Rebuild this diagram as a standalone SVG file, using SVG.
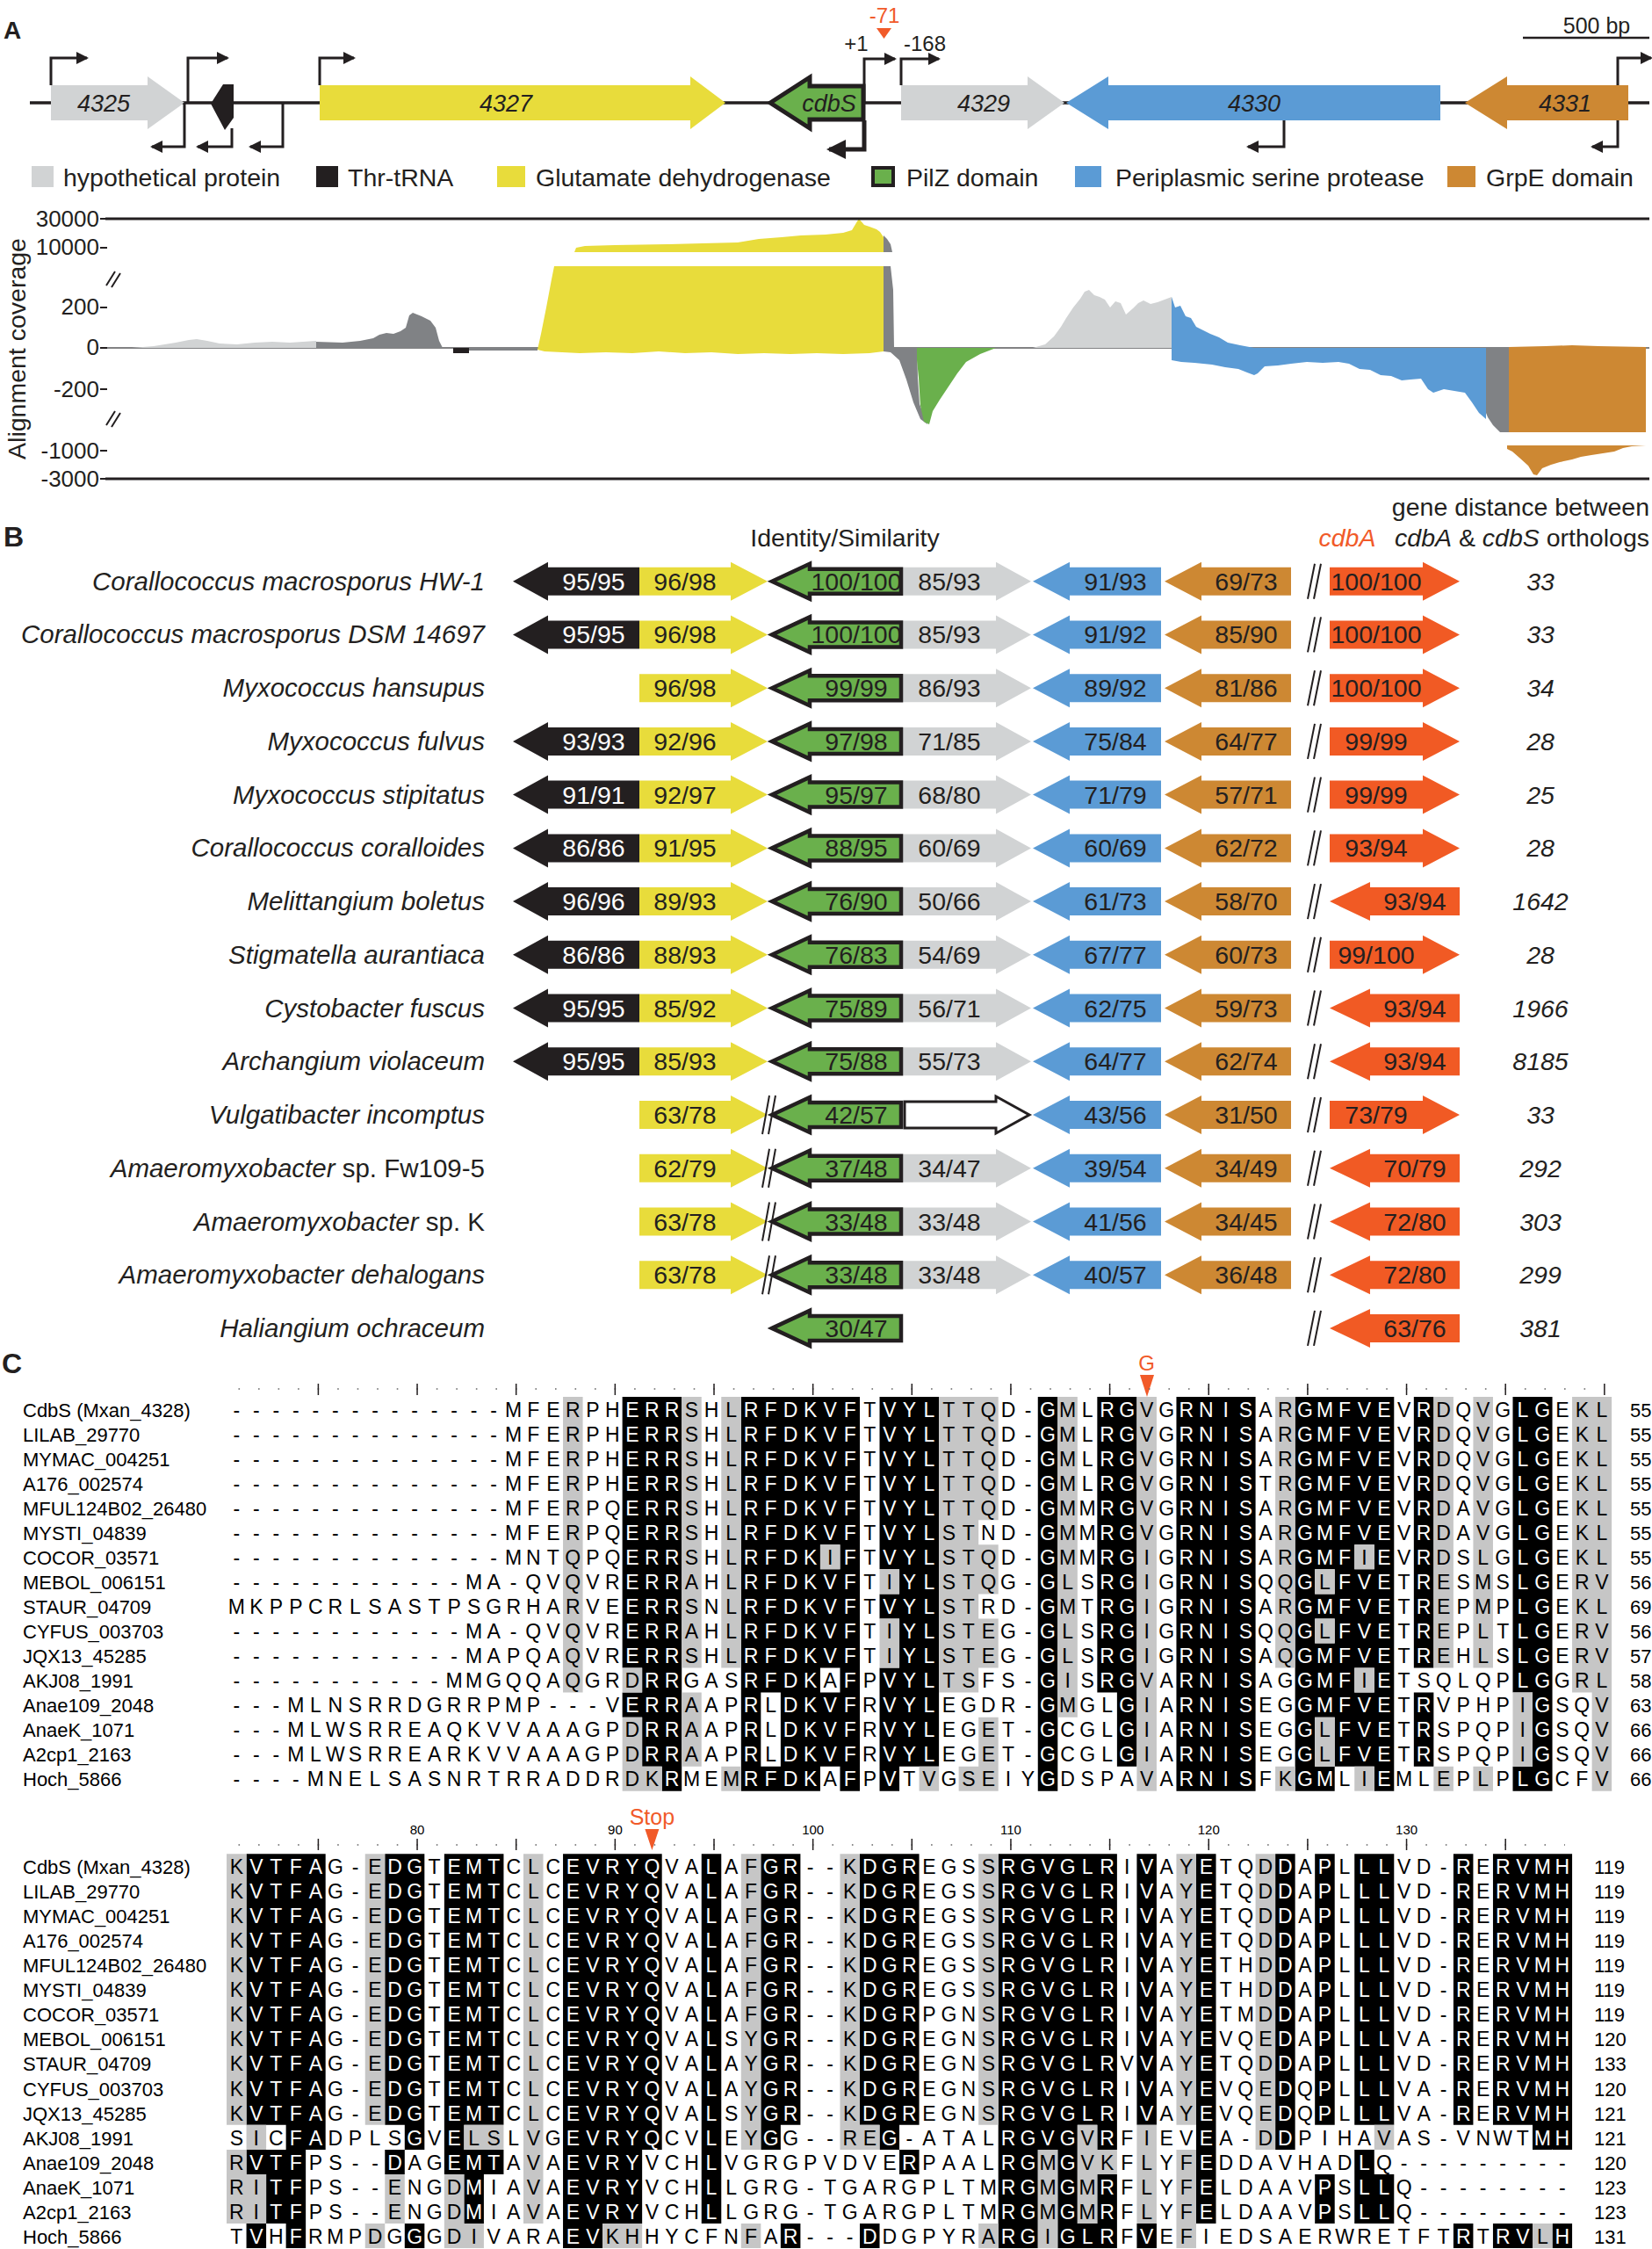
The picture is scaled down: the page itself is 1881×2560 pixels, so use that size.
<svg xmlns="http://www.w3.org/2000/svg" width="1881" height="2560" viewBox="0 0 1881 2560">
<style>
text{font-family:"Liberation Sans",Arial,Helvetica,sans-serif;fill:#231f20}
.it{font-style:italic}
.lab{font-size:32px;font-weight:bold}
.gl{font-size:27px;font-style:italic;text-anchor:middle}
.lg{font-size:28.5px}
.ax{font-size:26px;text-anchor:end}
.bl{font-size:28.5px;text-anchor:middle}
.wt{fill:#fff}
.sp{font-size:29.5px;font-style:italic;text-anchor:end}
.up{font-style:normal}
.dist{font-size:28.5px;font-style:italic;text-anchor:middle}
.s{font-size:23px;text-anchor:middle;fill:#000}
.s .w{fill:#fff}
.nm{font-size:22px;fill:#000}
.rn{font-size:15px;text-anchor:middle;fill:#000}
.or{fill:#f15a29}
.pr{fill:none;stroke:#231f20;stroke-width:3}
</style>
<defs>
<marker id="ph" markerUnits="userSpaceOnUse" markerWidth="14" markerHeight="14" viewBox="0 0 14 14" refX="12" refY="7" orient="auto"><path d="M0,0L14,7L0,14z" fill="#231f20"/></marker>
<marker id="ph2" markerUnits="userSpaceOnUse" markerWidth="22" markerHeight="22" viewBox="0 0 22 22" refX="19" refY="11" orient="auto"><path d="M0,0L22,11L0,22z" fill="#231f20"/></marker>
<polygon id="aK" points="584,0 624,-22 624,-16 728,-16 728,16 624,16 624,22" fill="#231f20"/>
<polygon id="aY" points="728,-16 832,-16 832,-22 874,0 832,22 832,16 728,16" fill="#e8dc3b"/>
<polygon id="aH" points="1028,-16 1134,-16 1134,-22 1174,0 1134,22 1134,16 1028,16" fill="#d1d3d4"/>
<polygon id="aG" points="879,0 922,-20 922,-14 1026,-14 1026,14 922,14 922,20" fill="#6ab04c" stroke="#231f20" stroke-width="4.5"/>
<polygon id="aB" points="1176,0 1218,-22 1218,-16 1322,-16 1322,16 1218,16 1218,22" fill="#5b9bd5"/>
<polygon id="aO" points="1326,0 1368,-22 1368,-16 1470,-16 1470,16 1368,16 1368,22" fill="#cd8833"/>
<polygon id="aR" points="1514,-16 1620,-16 1620,-22 1662,0 1620,22 1620,16 1514,16" fill="#f15a24"/>
<polygon id="aL" points="1514,0 1560,-22 1560,-16 1662,-16 1662,16 1560,16 1560,22" fill="#f15a24"/>
<path id="sl" d="M1489,20L1497,-20M1496,20L1504,-20" stroke="#231f20" stroke-width="2" fill="none"/>
<path id="sl2" d="M868,22L876,-22M875,22L883,-22" stroke="#231f20" stroke-width="2" fill="none"/>
</defs>
<rect width="1881" height="2560" fill="#fff"/>

<!-- Panel A gene map -->
<g id="panelA">
<text class="lab" x="4" y="44" style="font-size:28px">A</text>
<line x1="34" y1="117" x2="1878" y2="117" stroke="#231f20" stroke-width="3.5"/>
<g id="gene-4325"><polygon points="58,97 168,97 168,87 210,117 168,147 168,137 58,137" fill="#d1d3d4"/><text class="gl" x="118" y="127">4325</text></g>
<g id="gene-tRNA"><polygon points="240,118 254,96 266,96 266,134 256,148" fill="#231f20"/></g>
<g id="gene-4327"><polygon points="364,97 786,97 786,87 826,117 786,147 786,137 364,137" fill="#e8dc3b"/><text class="gl" x="576" y="127">4327</text></g>
<g id="gene-cdbS"><polygon points="877,117 922,88 922,98 983,98 983,136 922,136 922,146" fill="#6ab04c" stroke="#231f20" stroke-width="5"/><text class="gl" x="944" y="127">cdbS</text></g>
<g id="gene-4329"><polygon points="1026,97 1170,97 1170,87 1212,117 1170,147 1170,137 1026,137" fill="#d1d3d4"/><text class="gl" x="1120" y="127">4329</text></g>
<g id="gene-4330"><polygon points="1214,117 1262,87 1262,97 1640,97 1640,137 1262,137 1262,147" fill="#5b9bd5"/><text class="gl" x="1428" y="127">4330</text></g>
<g id="gene-4331"><polygon points="1668,117 1716,87 1716,97 1854,97 1854,137 1716,137 1716,147" fill="#cd8833"/><text class="gl" x="1782" y="127">4331</text></g>
<g id="promoters">
<path class="pr" marker-end="url(#ph)" d="M58,97V66H99"/>
<path class="pr" marker-end="url(#ph)" d="M214,117V66H259"/>
<path class="pr" marker-end="url(#ph)" d="M364,97V66H403"/>
<path class="pr" marker-end="url(#ph)" d="M984,117V67H1019"/>
<path class="pr" marker-end="url(#ph)" d="M1026,97V67H1069"/>
<path class="pr" marker-end="url(#ph)" d="M1842,97V66H1880"/>
<path class="pr" marker-end="url(#ph)" d="M210,117V167H173"/>
<path class="pr" marker-end="url(#ph)" d="M264,146V167H225"/>
<path class="pr" marker-end="url(#ph)" d="M322,117V167H285"/>
<path class="pr" style="stroke-width:5" marker-end="url(#ph2)" d="M984,137V170H944"/>
<path class="pr" marker-end="url(#ph)" d="M1462,137V167H1421"/>
<path class="pr" marker-end="url(#ph)" d="M1842,137V167H1813"/>
</g>
<text x="1007" y="26" font-size="24" text-anchor="middle" class="or">-71</text>
<polygon points="998,32 1015,32 1006.5,44" fill="#f15a29"/>
<text x="975" y="58" font-size="24" text-anchor="middle">+1</text>
<text x="1053" y="58" font-size="24" text-anchor="middle">-168</text>
<text x="1818" y="38" font-size="25" text-anchor="middle">500 bp</text>
<line x1="1734" y1="43" x2="1878" y2="43" stroke="#231f20" stroke-width="2.5"/>
</g>

<g id="legend">
<rect x="36" y="189" width="25" height="24" fill="#d1d3d4"/><text class="lg" x="72" y="212">hypothetical protein</text>
<rect x="360" y="189" width="25" height="24" fill="#231f20"/><text class="lg" x="396" y="212">Thr-tRNA</text>
<rect x="566" y="189" width="32" height="24" fill="#e8dc3b"/><text class="lg" x="610" y="212">Glutamate dehydrogenase</text>
<rect x="994" y="191" width="23" height="20" fill="#6ab04c" stroke="#231f20" stroke-width="4"/><text class="lg" x="1032" y="212">PilZ domain</text>
<rect x="1224" y="189" width="30" height="24" fill="#5b9bd5"/><text class="lg" x="1270" y="212">Periplasmic serine protease</text>
<rect x="1648" y="189" width="32" height="24" fill="#cd8833"/><text class="lg" x="1692" y="212">GrpE domain</text>
</g>

<!-- coverage plot -->
<g id="coverage">
<path d="M120,396H1878" stroke="#58595b" stroke-width="1.5"/>
<polygon fill="#d1d3d4" points="150,396 175,394 200,390 215,387 224,386 236,388 250,391 270,392 290,390 310,389 330,390 345,389 360,388 360,396"/>
<polygon fill="#808285" points="360,396 360,389 390,390 410,388 425,385 432,381 440,379 448,380 456,377 462,373 466,359 470,356 480,360 490,365 496,373 500,388 504,396"/>
<rect x="516" y="396" width="18" height="6" fill="#231f20"/>
<rect x="534" y="396" width="78" height="3" fill="#808285"/>
<polygon fill="#e8dc3b" points="612,398 616,380 622,350 628,318 631,303 1006,303 1006,400 990,402 960,403 930,402 900,403 870,402 840,403 810,401 780,402 750,400 720,402 690,401 660,402 640,401 620,400"/>
<polygon fill="#e8dc3b" points="654,287 656,282 666,280 700,279 760,278 800,277 840,276 864,272 890,270 912,268 940,267 960,265 970,262 976,252 978,249 984,256 990,258 998,261 1002,264 1006,270 1006,287"/>
<polygon fill="#808285" points="1006,268 1010,272 1014,278 1016,287 1006,287"/>
<polygon fill="#808285" points="1006,303 1014,303 1017,330 1018,396 1044,396 1045,430 1047,460 1056,483 1048,477 1040,458 1032,432 1024,410 1014,401 1006,400"/>
<polygon fill="#6ab04c" points="1044,396 1134,396 1116,403 1100,412 1090,425 1080,440 1070,455 1062,468 1058,483 1052,480 1048,462 1046,430 1044,410"/>
<polygon fill="#d1d3d4" points="1176,396 1190,392 1200,383 1208,372 1214,362 1222,350 1230,340 1235,332 1240,330 1246,336 1252,338 1258,341 1264,350 1270,343 1276,345 1282,358 1290,351 1296,345 1302,342 1310,346 1318,344 1326,341 1334,338 1334,396"/>
<polygon fill="#5b9bd5" points="1334,338 1338,350 1344,348 1350,360 1356,362 1362,372 1370,376 1378,380 1388,384 1398,390 1412,393 1428,396 1692,396 1692,477 1684,470 1676,458 1668,447 1656,445 1644,443 1632,447 1626,443 1618,431 1606,432 1596,433 1584,428 1572,427 1560,421 1548,420 1536,414 1524,412 1506,413 1488,412 1470,414 1455,416 1440,417 1432,425 1428,427 1420,424 1410,420 1395,418 1380,415 1360,413 1345,412 1334,410"/>
<polygon fill="#808285" points="1692,396 1718,396 1718,492 1708,492 1700,484 1694,475 1692,470"/>
<polygon fill="#cd8833" points="1718,395 1760,394 1790,393 1820,394 1874,395 1874,492 1718,492"/>
<polygon fill="#cd8833" points="1716,507 1874,507 1858,508 1848,510 1838,514 1825,516 1812,518 1800,520 1790,523 1776,526 1766,529 1756,533 1750,541 1746,540 1740,530 1730,521 1722,514 1716,511"/>
<path d="M120,249H1878M120,545H1878" stroke="#231f20" stroke-width="3"/>
<path d="M114,249h8M114,282h8M114,350h8M114,396h8M114,443h8M114,513h8M114,545h8" stroke="#231f20" stroke-width="2"/>
<path d="M121,325L131,309M127,327L137,311M121,484L131,468M127,486L137,470" stroke="#231f20" stroke-width="2"/>
<text class="ax" x="113" y="258">30000</text>
<text class="ax" x="113" y="290">10000</text>
<text class="ax" x="113" y="358">200</text>
<text class="ax" x="113" y="404">0</text>
<text class="ax" x="113" y="452">-200</text>
<text class="ax" x="113" y="522">-1000</text>
<text class="ax" x="113" y="554">-3000</text>
<text transform="translate(29,397) rotate(-90)" text-anchor="middle" font-size="28.5">Alignment coverage</text>
</g>

<!-- Panel B -->
<g id="panelB-header">
<text class="lab" x="4" y="622">B</text>
<text class="lg" x="962" y="622" text-anchor="middle">Identity/Similarity</text>
<text class="lg it or" x="1534" y="622" text-anchor="middle">cdbA</text>
<text class="lg" x="1878" y="587" text-anchor="end">gene distance between</text>
<text class="lg" x="1878" y="622" text-anchor="end"><tspan class="it">cdbA</tspan> &amp; <tspan class="it">cdbS</tspan> orthologs</text>
</g>
<g id="rowB0" transform="translate(0,661.7)">
<text class="sp" x="552" y="10">Corallococcus macrosporus HW-1</text>
<use href="#aK"/><text class="bl wt" x="676" y="10">95/95</text>
<use href="#aY"/><text class="bl" x="780" y="10">96/98</text>
<use href="#aH"/><text class="bl" x="1081" y="10">85/93</text>
<use href="#aG"/><text class="bl" x="975" y="10">100/100</text>
<use href="#aB"/><text class="bl" x="1270" y="10">91/93</text>
<use href="#aO"/><text class="bl" x="1419" y="10">69/73</text>
<use href="#sl"/>
<use href="#aR"/><text class="bl" x="1567" y="10">100/100</text>
<text class="dist" x="1754" y="10">33</text>
</g>
<g id="rowB1" transform="translate(0,722.4)">
<text class="sp" x="552" y="10">Corallococcus macrosporus DSM 14697</text>
<use href="#aK"/><text class="bl wt" x="676" y="10">95/95</text>
<use href="#aY"/><text class="bl" x="780" y="10">96/98</text>
<use href="#aH"/><text class="bl" x="1081" y="10">85/93</text>
<use href="#aG"/><text class="bl" x="975" y="10">100/100</text>
<use href="#aB"/><text class="bl" x="1270" y="10">91/92</text>
<use href="#aO"/><text class="bl" x="1419" y="10">85/90</text>
<use href="#sl"/>
<use href="#aR"/><text class="bl" x="1567" y="10">100/100</text>
<text class="dist" x="1754" y="10">33</text>
</g>
<g id="rowB2" transform="translate(0,783.2)">
<text class="sp" x="552" y="10">Myxococcus hansupus</text>
<use href="#aY"/><text class="bl" x="780" y="10">96/98</text>
<use href="#aH"/><text class="bl" x="1081" y="10">86/93</text>
<use href="#aG"/><text class="bl" x="975" y="10">99/99</text>
<use href="#aB"/><text class="bl" x="1270" y="10">89/92</text>
<use href="#aO"/><text class="bl" x="1419" y="10">81/86</text>
<use href="#sl"/>
<use href="#aR"/><text class="bl" x="1567" y="10">100/100</text>
<text class="dist" x="1754" y="10">34</text>
</g>
<g id="rowB3" transform="translate(0,843.9)">
<text class="sp" x="552" y="10">Myxococcus fulvus</text>
<use href="#aK"/><text class="bl wt" x="676" y="10">93/93</text>
<use href="#aY"/><text class="bl" x="780" y="10">92/96</text>
<use href="#aH"/><text class="bl" x="1081" y="10">71/85</text>
<use href="#aG"/><text class="bl" x="975" y="10">97/98</text>
<use href="#aB"/><text class="bl" x="1270" y="10">75/84</text>
<use href="#aO"/><text class="bl" x="1419" y="10">64/77</text>
<use href="#sl"/>
<use href="#aR"/><text class="bl" x="1567" y="10">99/99</text>
<text class="dist" x="1754" y="10">28</text>
</g>
<g id="rowB4" transform="translate(0,904.6)">
<text class="sp" x="552" y="10">Myxococcus stipitatus</text>
<use href="#aK"/><text class="bl wt" x="676" y="10">91/91</text>
<use href="#aY"/><text class="bl" x="780" y="10">92/97</text>
<use href="#aH"/><text class="bl" x="1081" y="10">68/80</text>
<use href="#aG"/><text class="bl" x="975" y="10">95/97</text>
<use href="#aB"/><text class="bl" x="1270" y="10">71/79</text>
<use href="#aO"/><text class="bl" x="1419" y="10">57/71</text>
<use href="#sl"/>
<use href="#aR"/><text class="bl" x="1567" y="10">99/99</text>
<text class="dist" x="1754" y="10">25</text>
</g>
<g id="rowB5" transform="translate(0,965.4)">
<text class="sp" x="552" y="10">Corallococcus coralloides</text>
<use href="#aK"/><text class="bl wt" x="676" y="10">86/86</text>
<use href="#aY"/><text class="bl" x="780" y="10">91/95</text>
<use href="#aH"/><text class="bl" x="1081" y="10">60/69</text>
<use href="#aG"/><text class="bl" x="975" y="10">88/95</text>
<use href="#aB"/><text class="bl" x="1270" y="10">60/69</text>
<use href="#aO"/><text class="bl" x="1419" y="10">62/72</text>
<use href="#sl"/>
<use href="#aR"/><text class="bl" x="1567" y="10">93/94</text>
<text class="dist" x="1754" y="10">28</text>
</g>
<g id="rowB6" transform="translate(0,1026.1)">
<text class="sp" x="552" y="10">Melittangium boletus</text>
<use href="#aK"/><text class="bl wt" x="676" y="10">96/96</text>
<use href="#aY"/><text class="bl" x="780" y="10">89/93</text>
<use href="#aH"/><text class="bl" x="1081" y="10">50/66</text>
<use href="#aG"/><text class="bl" x="975" y="10">76/90</text>
<use href="#aB"/><text class="bl" x="1270" y="10">61/73</text>
<use href="#aO"/><text class="bl" x="1419" y="10">58/70</text>
<use href="#sl"/>
<use href="#aL"/><text class="bl" x="1611" y="10">93/94</text>
<text class="dist" x="1754" y="10">1642</text>
</g>
<g id="rowB7" transform="translate(0,1086.8)">
<text class="sp" x="552" y="10">Stigmatella aurantiaca</text>
<use href="#aK"/><text class="bl wt" x="676" y="10">86/86</text>
<use href="#aY"/><text class="bl" x="780" y="10">88/93</text>
<use href="#aH"/><text class="bl" x="1081" y="10">54/69</text>
<use href="#aG"/><text class="bl" x="975" y="10">76/83</text>
<use href="#aB"/><text class="bl" x="1270" y="10">67/77</text>
<use href="#aO"/><text class="bl" x="1419" y="10">60/73</text>
<use href="#sl"/>
<use href="#aR"/><text class="bl" x="1567" y="10">99/100</text>
<text class="dist" x="1754" y="10">28</text>
</g>
<g id="rowB8" transform="translate(0,1147.5)">
<text class="sp" x="552" y="10">Cystobacter fuscus</text>
<use href="#aK"/><text class="bl wt" x="676" y="10">95/95</text>
<use href="#aY"/><text class="bl" x="780" y="10">85/92</text>
<use href="#aH"/><text class="bl" x="1081" y="10">56/71</text>
<use href="#aG"/><text class="bl" x="975" y="10">75/89</text>
<use href="#aB"/><text class="bl" x="1270" y="10">62/75</text>
<use href="#aO"/><text class="bl" x="1419" y="10">59/73</text>
<use href="#sl"/>
<use href="#aL"/><text class="bl" x="1611" y="10">93/94</text>
<text class="dist" x="1754" y="10">1966</text>
</g>
<g id="rowB9" transform="translate(0,1208.3)">
<text class="sp" x="552" y="10">Archangium violaceum</text>
<use href="#aK"/><text class="bl wt" x="676" y="10">95/95</text>
<use href="#aY"/><text class="bl" x="780" y="10">85/93</text>
<use href="#aH"/><text class="bl" x="1081" y="10">55/73</text>
<use href="#aG"/><text class="bl" x="975" y="10">75/88</text>
<use href="#aB"/><text class="bl" x="1270" y="10">64/77</text>
<use href="#aO"/><text class="bl" x="1419" y="10">62/74</text>
<use href="#sl"/>
<use href="#aL"/><text class="bl" x="1611" y="10">93/94</text>
<text class="dist" x="1754" y="10">8185</text>
</g>
<g id="rowB10" transform="translate(0,1269)">
<text class="sp" x="552" y="10">Vulgatibacter incomptus</text>
<use href="#aY"/><text class="bl" x="780" y="10">63/78</text>
<polygon points="1030,-15 1134,-15 1134,-21 1172,0 1134,21 1134,15 1030,15" fill="#fff" stroke="#231f20" stroke-width="3"/>
<use href="#aG"/><text class="bl" x="975" y="10">42/57</text>
<use href="#sl2"/>
<use href="#aB"/><text class="bl" x="1270" y="10">43/56</text>
<use href="#aO"/><text class="bl" x="1419" y="10">31/50</text>
<use href="#sl"/>
<use href="#aR"/><text class="bl" x="1567" y="10">73/79</text>
<text class="dist" x="1754" y="10">33</text>
</g>
<g id="rowB11" transform="translate(0,1329.7)">
<text class="sp" x="552" y="10">Amaeromyxobacter <tspan class="up">sp. Fw109-5</tspan></text>
<use href="#aY"/><text class="bl" x="780" y="10">62/79</text>
<use href="#aH"/><text class="bl" x="1081" y="10">34/47</text>
<use href="#aG"/><text class="bl" x="975" y="10">37/48</text>
<use href="#sl2"/>
<use href="#aB"/><text class="bl" x="1270" y="10">39/54</text>
<use href="#aO"/><text class="bl" x="1419" y="10">34/49</text>
<use href="#sl"/>
<use href="#aL"/><text class="bl" x="1611" y="10">70/79</text>
<text class="dist" x="1754" y="10">292</text>
</g>
<g id="rowB12" transform="translate(0,1390.5)">
<text class="sp" x="552" y="10">Amaeromyxobacter <tspan class="up">sp. K</tspan></text>
<use href="#aY"/><text class="bl" x="780" y="10">63/78</text>
<use href="#aH"/><text class="bl" x="1081" y="10">33/48</text>
<use href="#aG"/><text class="bl" x="975" y="10">33/48</text>
<use href="#sl2"/>
<use href="#aB"/><text class="bl" x="1270" y="10">41/56</text>
<use href="#aO"/><text class="bl" x="1419" y="10">34/45</text>
<use href="#sl"/>
<use href="#aL"/><text class="bl" x="1611" y="10">72/80</text>
<text class="dist" x="1754" y="10">303</text>
</g>
<g id="rowB13" transform="translate(0,1451.2)">
<text class="sp" x="552" y="10">Amaeromyxobacter dehalogans</text>
<use href="#aY"/><text class="bl" x="780" y="10">63/78</text>
<use href="#aH"/><text class="bl" x="1081" y="10">33/48</text>
<use href="#aG"/><text class="bl" x="975" y="10">33/48</text>
<use href="#sl2"/>
<use href="#aB"/><text class="bl" x="1270" y="10">40/57</text>
<use href="#aO"/><text class="bl" x="1419" y="10">36/48</text>
<use href="#sl"/>
<use href="#aL"/><text class="bl" x="1611" y="10">72/80</text>
<text class="dist" x="1754" y="10">299</text>
</g>
<g id="rowB14" transform="translate(0,1511.9)">
<text class="sp" x="552" y="10">Haliangium ochraceum</text>
<use href="#aG"/><text class="bl" x="975" y="10">30/47</text>
<use href="#sl"/>
<use href="#aL"/><text class="bl" x="1611" y="10">63/76</text>
<text class="dist" x="1754" y="10">381</text>
</g>

<!-- Panel C alignment -->
<g id="panelC">
<text class="lab" x="2" y="1563">C</text>
<text x="1305.7" y="1560" font-size="24" text-anchor="middle" class="or">G</text>
<polygon points="1298,1565 1314,1565 1306,1590" fill="#f15a29"/>
<path d="M271.5,1581H1826" stroke="#666" stroke-width="1.6" stroke-dasharray="1.6 20.93"/>
<path d="M361.65,1581.5H1828" stroke="#231f20" stroke-width="13" stroke-dasharray="1.5 111.15"/>
<g id="shade1" transform="translate(258.03,1590) scale(22.53,28.05)">
<path fill="#000" d="M20 0h1v11h-1zM20 12h1v1h-1zM21 0h2v15h-2zM22 15h1v1h-1zM26 0h1v16h-1zM27 0h1v12h-1zM27 15h1v1h-1zM28 0h2v16h-2zM30 0h1v6h-1zM30 7h1v4h-1zM30 12h1v3h-1zM31 0h1v16h-1zM33 0h1v7h-1zM33 8h1v1h-1zM33 11h1v5h-1zM34 0h2v15h-2zM41 0h1v16h-1zM44 0h1v12h-1zM45 0h1v15h-1zM48 0h4v16h-4zM54 0h1v16h-1zM55 0h1v7h-1zM55 8h1v1h-1zM55 10h1v3h-1zM55 15h1v1h-1zM56 0h1v15h-1zM57 0h1v6h-1zM57 7h1v4h-1zM57 12h1v3h-1zM58 0h1v16h-1zM60 0h1v11h-1zM60 12h1v3h-1zM65 0h1v12h-1zM65 15h1v1h-1zM66 0h1v16h-1z"/>
<path fill="#c6c6c6" d="M17 0h1v12h-1zM20 11h1v1h-1zM20 13h1v3h-1zM21 15h1v1h-1zM23 0h1v11h-1zM23 12h1v3h-1zM25 0h1v11h-1zM25 15h1v1h-1zM30 6h1v1h-1zM33 7h1v1h-1zM33 9h1v2h-1zM35 15h1v1h-1zM36 0h2v12h-2zM37 15h1v1h-1zM38 0h1v5h-1zM38 6h1v2h-1zM38 9h1v2h-1zM38 13h1v3h-1zM42 0h1v13h-1zM46 0h1v16h-1zM53 0h1v11h-1zM53 15h1v1h-1zM55 7h1v1h-1zM55 9h1v1h-1zM55 13h1v2h-1zM57 6h1v1h-1zM57 11h1v1h-1zM57 15h1v1h-1zM61 0h1v11h-1zM61 15h1v1h-1zM63 0h1v11h-1zM63 15h1v1h-1zM65 12h1v3h-1zM68 0h1v12h-1zM69 0h1v16h-1z"/>
</g>
<g id="names1" class="nm">
<text class="nm" x="26" y="1612.5">CdbS (Mxan_4328)</text>
<text class="nm" x="26" y="1640.6">LILAB_29770</text>
<text class="nm" x="26" y="1668.6">MYMAC_004251</text>
<text class="nm" x="26" y="1696.7">A176_002574</text>
<text class="nm" x="26" y="1724.7">MFUL124B02_26480</text>
<text class="nm" x="26" y="1752.8">MYSTI_04839</text>
<text class="nm" x="26" y="1780.8">COCOR_03571</text>
<text class="nm" x="26" y="1808.9">MEBOL_006151</text>
<text class="nm" x="26" y="1836.9">STAUR_04709</text>
<text class="nm" x="26" y="1865">CYFUS_003703</text>
<text class="nm" x="26" y="1893">JQX13_45285</text>
<text class="nm" x="26" y="1921.1">AKJ08_1991</text>
<text class="nm" x="26" y="1949.1">Anae109_2048</text>
<text class="nm" x="26" y="1977.2">AnaeK_1071</text>
<text class="nm" x="26" y="2005.2">A2cp1_2163</text>
<text class="nm" x="26" y="2033.3">Hoch_5866</text>
</g>
<g id="seq1">
<text class="s" y="1612.5" x="269.3 291.8 314.4 336.9 359.4 381.9 404.5 427 449.5 472.1 494.6 517.1 539.7 562.2 584.7 607.3 629.8 652.3 674.8 697.4 719.9 742.4 765 787.5 810 832.6 855.1 877.6 900.1 922.7 945.2 967.7 990.3 1012.8 1035.3 1057.9 1080.4 1102.9 1125.4 1148 1170.5 1193 1215.6 1238.1 1260.6 1283.2 1305.7 1328.2 1350.7 1373.3 1395.8 1418.3 1440.9 1463.4 1485.9 1508.5 1531 1553.5 1576 1598.6 1621.1 1643.6 1666.2 1688.7 1711.2 1733.8 1756.3 1778.8 1801.3 1823.9">--------------MFERPH<tspan class="w">ERR</tspan>SHL<tspan class="w">RFDKVF</tspan>T<tspan class="w">VYL</tspan>TTQD-<tspan class="w">G</tspan>ML<tspan class="w">RG</tspan>VG<tspan class="w">RNIS</tspan>AR<tspan class="w">GMFVE</tspan>V<tspan class="w">R</tspan>DQVG<tspan class="w">LG</tspan>EKL</text>
<text class="s" y="1640.6" x="269.3 291.8 314.4 336.9 359.4 381.9 404.5 427 449.5 472.1 494.6 517.1 539.7 562.2 584.7 607.3 629.8 652.3 674.8 697.4 719.9 742.4 765 787.5 810 832.6 855.1 877.6 900.1 922.7 945.2 967.7 990.3 1012.8 1035.3 1057.9 1080.4 1102.9 1125.4 1148 1170.5 1193 1215.6 1238.1 1260.6 1283.2 1305.7 1328.2 1350.7 1373.3 1395.8 1418.3 1440.9 1463.4 1485.9 1508.5 1531 1553.5 1576 1598.6 1621.1 1643.6 1666.2 1688.7 1711.2 1733.8 1756.3 1778.8 1801.3 1823.9">--------------MFERPH<tspan class="w">ERR</tspan>SHL<tspan class="w">RFDKVF</tspan>T<tspan class="w">VYL</tspan>TTQD-<tspan class="w">G</tspan>ML<tspan class="w">RG</tspan>VG<tspan class="w">RNIS</tspan>AR<tspan class="w">GMFVE</tspan>V<tspan class="w">R</tspan>DQVG<tspan class="w">LG</tspan>EKL</text>
<text class="s" y="1668.6" x="269.3 291.8 314.4 336.9 359.4 381.9 404.5 427 449.5 472.1 494.6 517.1 539.7 562.2 584.7 607.3 629.8 652.3 674.8 697.4 719.9 742.4 765 787.5 810 832.6 855.1 877.6 900.1 922.7 945.2 967.7 990.3 1012.8 1035.3 1057.9 1080.4 1102.9 1125.4 1148 1170.5 1193 1215.6 1238.1 1260.6 1283.2 1305.7 1328.2 1350.7 1373.3 1395.8 1418.3 1440.9 1463.4 1485.9 1508.5 1531 1553.5 1576 1598.6 1621.1 1643.6 1666.2 1688.7 1711.2 1733.8 1756.3 1778.8 1801.3 1823.9">--------------MFERPH<tspan class="w">ERR</tspan>SHL<tspan class="w">RFDKVF</tspan>T<tspan class="w">VYL</tspan>TTQD-<tspan class="w">G</tspan>ML<tspan class="w">RG</tspan>VG<tspan class="w">RNIS</tspan>AR<tspan class="w">GMFVE</tspan>V<tspan class="w">R</tspan>DQVG<tspan class="w">LG</tspan>EKL</text>
<text class="s" y="1696.7" x="269.3 291.8 314.4 336.9 359.4 381.9 404.5 427 449.5 472.1 494.6 517.1 539.7 562.2 584.7 607.3 629.8 652.3 674.8 697.4 719.9 742.4 765 787.5 810 832.6 855.1 877.6 900.1 922.7 945.2 967.7 990.3 1012.8 1035.3 1057.9 1080.4 1102.9 1125.4 1148 1170.5 1193 1215.6 1238.1 1260.6 1283.2 1305.7 1328.2 1350.7 1373.3 1395.8 1418.3 1440.9 1463.4 1485.9 1508.5 1531 1553.5 1576 1598.6 1621.1 1643.6 1666.2 1688.7 1711.2 1733.8 1756.3 1778.8 1801.3 1823.9">--------------MFERPH<tspan class="w">ERR</tspan>SHL<tspan class="w">RFDKVF</tspan>T<tspan class="w">VYL</tspan>TTQD-<tspan class="w">G</tspan>ML<tspan class="w">RG</tspan>VG<tspan class="w">RNIS</tspan>TR<tspan class="w">GMFVE</tspan>V<tspan class="w">R</tspan>DQVG<tspan class="w">LG</tspan>EKL</text>
<text class="s" y="1724.7" x="269.3 291.8 314.4 336.9 359.4 381.9 404.5 427 449.5 472.1 494.6 517.1 539.7 562.2 584.7 607.3 629.8 652.3 674.8 697.4 719.9 742.4 765 787.5 810 832.6 855.1 877.6 900.1 922.7 945.2 967.7 990.3 1012.8 1035.3 1057.9 1080.4 1102.9 1125.4 1148 1170.5 1193 1215.6 1238.1 1260.6 1283.2 1305.7 1328.2 1350.7 1373.3 1395.8 1418.3 1440.9 1463.4 1485.9 1508.5 1531 1553.5 1576 1598.6 1621.1 1643.6 1666.2 1688.7 1711.2 1733.8 1756.3 1778.8 1801.3 1823.9">--------------MFERPQ<tspan class="w">ERR</tspan>SHL<tspan class="w">RFDKVF</tspan>T<tspan class="w">VYL</tspan>TTQD-<tspan class="w">G</tspan>MM<tspan class="w">RG</tspan>VG<tspan class="w">RNIS</tspan>AR<tspan class="w">GMFVE</tspan>V<tspan class="w">R</tspan>DAVG<tspan class="w">LG</tspan>EKL</text>
<text class="s" y="1752.8" x="269.3 291.8 314.4 336.9 359.4 381.9 404.5 427 449.5 472.1 494.6 517.1 539.7 562.2 584.7 607.3 629.8 652.3 674.8 697.4 719.9 742.4 765 787.5 810 832.6 855.1 877.6 900.1 922.7 945.2 967.7 990.3 1012.8 1035.3 1057.9 1080.4 1102.9 1125.4 1148 1170.5 1193 1215.6 1238.1 1260.6 1283.2 1305.7 1328.2 1350.7 1373.3 1395.8 1418.3 1440.9 1463.4 1485.9 1508.5 1531 1553.5 1576 1598.6 1621.1 1643.6 1666.2 1688.7 1711.2 1733.8 1756.3 1778.8 1801.3 1823.9">--------------MFERPQ<tspan class="w">ERR</tspan>SHL<tspan class="w">RFDKVF</tspan>T<tspan class="w">VYL</tspan>STND-<tspan class="w">G</tspan>MM<tspan class="w">RG</tspan>VG<tspan class="w">RNIS</tspan>AR<tspan class="w">GMFVE</tspan>V<tspan class="w">R</tspan>DAVG<tspan class="w">LG</tspan>EKL</text>
<text class="s" y="1780.8" x="269.3 291.8 314.4 336.9 359.4 381.9 404.5 427 449.5 472.1 494.6 517.1 539.7 562.2 584.7 607.3 629.8 652.3 674.8 697.4 719.9 742.4 765 787.5 810 832.6 855.1 877.6 900.1 922.7 945.2 967.7 990.3 1012.8 1035.3 1057.9 1080.4 1102.9 1125.4 1148 1170.5 1193 1215.6 1238.1 1260.6 1283.2 1305.7 1328.2 1350.7 1373.3 1395.8 1418.3 1440.9 1463.4 1485.9 1508.5 1531 1553.5 1576 1598.6 1621.1 1643.6 1666.2 1688.7 1711.2 1733.8 1756.3 1778.8 1801.3 1823.9">--------------MNTQPQ<tspan class="w">ERR</tspan>SHL<tspan class="w">RFDK</tspan>I<tspan class="w">F</tspan>T<tspan class="w">VYL</tspan>STQD-<tspan class="w">G</tspan>MM<tspan class="w">RG</tspan>IG<tspan class="w">RNIS</tspan>AR<tspan class="w">GMF</tspan>I<tspan class="w">E</tspan>V<tspan class="w">R</tspan>DSLG<tspan class="w">LG</tspan>EKL</text>
<text class="s" y="1808.9" x="269.3 291.8 314.4 336.9 359.4 381.9 404.5 427 449.5 472.1 494.6 517.1 539.7 562.2 584.7 607.3 629.8 652.3 674.8 697.4 719.9 742.4 765 787.5 810 832.6 855.1 877.6 900.1 922.7 945.2 967.7 990.3 1012.8 1035.3 1057.9 1080.4 1102.9 1125.4 1148 1170.5 1193 1215.6 1238.1 1260.6 1283.2 1305.7 1328.2 1350.7 1373.3 1395.8 1418.3 1440.9 1463.4 1485.9 1508.5 1531 1553.5 1576 1598.6 1621.1 1643.6 1666.2 1688.7 1711.2 1733.8 1756.3 1778.8 1801.3 1823.9">------------MA-QVQVR<tspan class="w">ERR</tspan>AHL<tspan class="w">RFDKVF</tspan>TI<tspan class="w">YL</tspan>STQG-<tspan class="w">G</tspan>LS<tspan class="w">RG</tspan>IG<tspan class="w">RNIS</tspan>QQ<tspan class="w">G</tspan>L<tspan class="w">FVE</tspan>T<tspan class="w">R</tspan>ESMS<tspan class="w">LG</tspan>ERV</text>
<text class="s" y="1836.9" x="269.3 291.8 314.4 336.9 359.4 381.9 404.5 427 449.5 472.1 494.6 517.1 539.7 562.2 584.7 607.3 629.8 652.3 674.8 697.4 719.9 742.4 765 787.5 810 832.6 855.1 877.6 900.1 922.7 945.2 967.7 990.3 1012.8 1035.3 1057.9 1080.4 1102.9 1125.4 1148 1170.5 1193 1215.6 1238.1 1260.6 1283.2 1305.7 1328.2 1350.7 1373.3 1395.8 1418.3 1440.9 1463.4 1485.9 1508.5 1531 1553.5 1576 1598.6 1621.1 1643.6 1666.2 1688.7 1711.2 1733.8 1756.3 1778.8 1801.3 1823.9">MKPPCRLSASTPSGRHARVE<tspan class="w">ERR</tspan>SNL<tspan class="w">RFDKVF</tspan>T<tspan class="w">VYL</tspan>STRD-<tspan class="w">G</tspan>MT<tspan class="w">RG</tspan>IG<tspan class="w">RNIS</tspan>AR<tspan class="w">GMFVE</tspan>T<tspan class="w">R</tspan>EPMP<tspan class="w">LG</tspan>EKL</text>
<text class="s" y="1865" x="269.3 291.8 314.4 336.9 359.4 381.9 404.5 427 449.5 472.1 494.6 517.1 539.7 562.2 584.7 607.3 629.8 652.3 674.8 697.4 719.9 742.4 765 787.5 810 832.6 855.1 877.6 900.1 922.7 945.2 967.7 990.3 1012.8 1035.3 1057.9 1080.4 1102.9 1125.4 1148 1170.5 1193 1215.6 1238.1 1260.6 1283.2 1305.7 1328.2 1350.7 1373.3 1395.8 1418.3 1440.9 1463.4 1485.9 1508.5 1531 1553.5 1576 1598.6 1621.1 1643.6 1666.2 1688.7 1711.2 1733.8 1756.3 1778.8 1801.3 1823.9">------------MA-QVQVR<tspan class="w">ERR</tspan>AHL<tspan class="w">RFDKVF</tspan>TI<tspan class="w">YL</tspan>STEG-<tspan class="w">G</tspan>LS<tspan class="w">RG</tspan>IG<tspan class="w">RNIS</tspan>QQ<tspan class="w">G</tspan>L<tspan class="w">FVE</tspan>T<tspan class="w">R</tspan>EPLT<tspan class="w">LG</tspan>ERV</text>
<text class="s" y="1893" x="269.3 291.8 314.4 336.9 359.4 381.9 404.5 427 449.5 472.1 494.6 517.1 539.7 562.2 584.7 607.3 629.8 652.3 674.8 697.4 719.9 742.4 765 787.5 810 832.6 855.1 877.6 900.1 922.7 945.2 967.7 990.3 1012.8 1035.3 1057.9 1080.4 1102.9 1125.4 1148 1170.5 1193 1215.6 1238.1 1260.6 1283.2 1305.7 1328.2 1350.7 1373.3 1395.8 1418.3 1440.9 1463.4 1485.9 1508.5 1531 1553.5 1576 1598.6 1621.1 1643.6 1666.2 1688.7 1711.2 1733.8 1756.3 1778.8 1801.3 1823.9">------------MAPQAQVR<tspan class="w">ERR</tspan>SHL<tspan class="w">RFDKVF</tspan>TI<tspan class="w">YL</tspan>STEG-<tspan class="w">G</tspan>LS<tspan class="w">RG</tspan>IG<tspan class="w">RNIS</tspan>AQ<tspan class="w">GMFVE</tspan>T<tspan class="w">R</tspan>EHLS<tspan class="w">LG</tspan>ERV</text>
<text class="s" y="1921.1" x="269.3 291.8 314.4 336.9 359.4 381.9 404.5 427 449.5 472.1 494.6 517.1 539.7 562.2 584.7 607.3 629.8 652.3 674.8 697.4 719.9 742.4 765 787.5 810 832.6 855.1 877.6 900.1 922.7 945.2 967.7 990.3 1012.8 1035.3 1057.9 1080.4 1102.9 1125.4 1148 1170.5 1193 1215.6 1238.1 1260.6 1283.2 1305.7 1328.2 1350.7 1373.3 1395.8 1418.3 1440.9 1463.4 1485.9 1508.5 1531 1553.5 1576 1598.6 1621.1 1643.6 1666.2 1688.7 1711.2 1733.8 1756.3 1778.8 1801.3 1823.9">-----------MMGQQAQGRD<tspan class="w">RR</tspan>GAS<tspan class="w">RFDK</tspan>A<tspan class="w">F</tspan>P<tspan class="w">VYL</tspan>TSFS-<tspan class="w">G</tspan>IS<tspan class="w">RG</tspan>VA<tspan class="w">RNIS</tspan>AG<tspan class="w">GMF</tspan>I<tspan class="w">E</tspan>TSQLQP<tspan class="w">LG</tspan>GRL</text>
<text class="s" y="1949.1" x="269.3 291.8 314.4 336.9 359.4 381.9 404.5 427 449.5 472.1 494.6 517.1 539.7 562.2 584.7 607.3 629.8 652.3 674.8 697.4 719.9 742.4 765 787.5 810 832.6 855.1 877.6 900.1 922.7 945.2 967.7 990.3 1012.8 1035.3 1057.9 1080.4 1102.9 1125.4 1148 1170.5 1193 1215.6 1238.1 1260.6 1283.2 1305.7 1328.2 1350.7 1373.3 1395.8 1418.3 1440.9 1463.4 1485.9 1508.5 1531 1553.5 1576 1598.6 1621.1 1643.6 1666.2 1688.7 1711.2 1733.8 1756.3 1778.8 1801.3 1823.9">---MLNSRRDGRRPMP---V<tspan class="w">ERR</tspan>AAP<tspan class="w">R</tspan>L<tspan class="w">DKVF</tspan>R<tspan class="w">VYL</tspan>EGDR-<tspan class="w">G</tspan>MGL<tspan class="w">G</tspan>IA<tspan class="w">RNIS</tspan>EG<tspan class="w">GMFVE</tspan>T<tspan class="w">R</tspan>VPHPI<tspan class="w">G</tspan>SQV</text>
<text class="s" y="1977.2" x="269.3 291.8 314.4 336.9 359.4 381.9 404.5 427 449.5 472.1 494.6 517.1 539.7 562.2 584.7 607.3 629.8 652.3 674.8 697.4 719.9 742.4 765 787.5 810 832.6 855.1 877.6 900.1 922.7 945.2 967.7 990.3 1012.8 1035.3 1057.9 1080.4 1102.9 1125.4 1148 1170.5 1193 1215.6 1238.1 1260.6 1283.2 1305.7 1328.2 1350.7 1373.3 1395.8 1418.3 1440.9 1463.4 1485.9 1508.5 1531 1553.5 1576 1598.6 1621.1 1643.6 1666.2 1688.7 1711.2 1733.8 1756.3 1778.8 1801.3 1823.9">---MLWSRREAQKVVAAAGPD<tspan class="w">RR</tspan>AAP<tspan class="w">R</tspan>L<tspan class="w">DKVF</tspan>R<tspan class="w">VYL</tspan>EGET-<tspan class="w">G</tspan>CGL<tspan class="w">G</tspan>IA<tspan class="w">RNIS</tspan>EG<tspan class="w">G</tspan>L<tspan class="w">FVE</tspan>T<tspan class="w">R</tspan>SPQPI<tspan class="w">G</tspan>SQV</text>
<text class="s" y="2005.2" x="269.3 291.8 314.4 336.9 359.4 381.9 404.5 427 449.5 472.1 494.6 517.1 539.7 562.2 584.7 607.3 629.8 652.3 674.8 697.4 719.9 742.4 765 787.5 810 832.6 855.1 877.6 900.1 922.7 945.2 967.7 990.3 1012.8 1035.3 1057.9 1080.4 1102.9 1125.4 1148 1170.5 1193 1215.6 1238.1 1260.6 1283.2 1305.7 1328.2 1350.7 1373.3 1395.8 1418.3 1440.9 1463.4 1485.9 1508.5 1531 1553.5 1576 1598.6 1621.1 1643.6 1666.2 1688.7 1711.2 1733.8 1756.3 1778.8 1801.3 1823.9">---MLWSRREARKVVAAAGPD<tspan class="w">RR</tspan>AAP<tspan class="w">R</tspan>L<tspan class="w">DKVF</tspan>R<tspan class="w">VYL</tspan>EGET-<tspan class="w">G</tspan>CGL<tspan class="w">G</tspan>IA<tspan class="w">RNIS</tspan>EG<tspan class="w">G</tspan>L<tspan class="w">FVE</tspan>T<tspan class="w">R</tspan>SPQPI<tspan class="w">G</tspan>SQV</text>
<text class="s" y="2033.3" x="269.3 291.8 314.4 336.9 359.4 381.9 404.5 427 449.5 472.1 494.6 517.1 539.7 562.2 584.7 607.3 629.8 652.3 674.8 697.4 719.9 742.4 765 787.5 810 832.6 855.1 877.6 900.1 922.7 945.2 967.7 990.3 1012.8 1035.3 1057.9 1080.4 1102.9 1125.4 1148 1170.5 1193 1215.6 1238.1 1260.6 1283.2 1305.7 1328.2 1350.7 1373.3 1395.8 1418.3 1440.9 1463.4 1485.9 1508.5 1531 1553.5 1576 1598.6 1621.1 1643.6 1666.2 1688.7 1711.2 1733.8 1756.3 1778.8 1801.3 1823.9">----MNELSASNRTRRADDRDK<tspan class="w">R</tspan>MEM<tspan class="w">RFDK</tspan>A<tspan class="w">F</tspan>P<tspan class="w">V</tspan>TVGSEIY<tspan class="w">G</tspan>DSPAVA<tspan class="w">RNIS</tspan>FK<tspan class="w">GM</tspan>LI<tspan class="w">E</tspan>MLEPLP<tspan class="w">LG</tspan>CFV</text>
</g>
<g id="count1" class="nm">
<text class="nm" x="1856" y="1612.5">55</text>
<text class="nm" x="1856" y="1640.6">55</text>
<text class="nm" x="1856" y="1668.6">55</text>
<text class="nm" x="1856" y="1696.7">55</text>
<text class="nm" x="1856" y="1724.7">55</text>
<text class="nm" x="1856" y="1752.8">55</text>
<text class="nm" x="1856" y="1780.8">55</text>
<text class="nm" x="1856" y="1808.9">56</text>
<text class="nm" x="1856" y="1836.9">69</text>
<text class="nm" x="1856" y="1865">56</text>
<text class="nm" x="1856" y="1893">57</text>
<text class="nm" x="1856" y="1921.1">58</text>
<text class="nm" x="1856" y="1949.1">63</text>
<text class="nm" x="1856" y="1977.2">66</text>
<text class="nm" x="1856" y="2005.2">66</text>
<text class="nm" x="1856" y="2033.3">66</text>
</g>

<text x="742.4" y="2077" font-size="25" text-anchor="middle" class="or">Stop</text>
<polygon points="734.4,2082 750.4,2082 742.4,2106" fill="#f15a29"/>
<path d="M271.5,2100H1782" stroke="#666" stroke-width="1.6" stroke-dasharray="1.6 20.93"/>
<path d="M361.65,2099.5H1716" stroke="#231f20" stroke-width="13" stroke-dasharray="1.5 111.15"/>
<text class="rn" x="475" y="2088">80</text>
<text class="rn" x="700.4" y="2088">90</text>
<text class="rn" x="925.7" y="2088">100</text>
<text class="rn" x="1151" y="2088">110</text>
<text class="rn" x="1376.3" y="2088">120</text>
<text class="rn" x="1601.6" y="2088">130</text>
<g id="shade2" transform="translate(258.03,2110.3) scale(22.53,28.05)">
<path fill="#000" d="M1 0h1v11h-1zM1 12h1v1h-1zM1 15h1v1h-1zM2 0h1v11h-1zM2 12h1v3h-1zM3 0h1v16h-1zM4 0h1v12h-1zM8 0h1v11h-1zM8 12h1v1h-1zM9 0h1v12h-1zM9 15h1v1h-1zM11 0h1v13h-1zM12 0h1v11h-1zM12 12h1v3h-1zM13 0h1v11h-1zM13 12h1v1h-1zM17 0h2v16h-2zM19 0h2v15h-2zM21 0h1v12h-1zM24 0h1v15h-1zM27 0h1v12h-1zM28 0h1v11h-1zM28 15h1v1h-1zM32 0h1v11h-1zM32 15h1v1h-1zM33 0h1v12h-1zM34 0h1v11h-1zM34 12h1v1h-1zM39 0h2v16h-2zM41 0h1v12h-1zM42 0h1v16h-1zM43 0h1v11h-1zM43 15h1v1h-1zM44 0h1v12h-1zM44 13h1v3h-1zM46 0h1v11h-1zM46 15h1v1h-1zM49 0h1v15h-1zM53 0h1v12h-1zM55 0h1v11h-1zM55 13h1v2h-1zM57 0h1v11h-1zM57 12h1v3h-1zM58 0h1v11h-1zM58 13h1v2h-1zM62 0h1v11h-1zM62 15h1v1h-1zM64 0h2v11h-2zM64 15h2v1h-2zM66 0h1v12h-1zM67 0h1v12h-1zM67 15h1v1h-1z"/>
<path fill="#c6c6c6" d="M0 0h1v11h-1zM0 12h1v3h-1zM1 11h1v1h-1zM1 13h1v2h-1zM7 0h1v11h-1zM7 15h1v1h-1zM8 13h1v2h-1zM11 13h1v3h-1zM12 11h1v1h-1zM12 15h1v1h-1zM13 11h1v1h-1zM15 0h1v15h-1zM19 15h2v1h-2zM26 0h1v12h-1zM26 15h1v1h-1zM31 0h1v12h-1zM32 11h1v1h-1zM38 0h1v11h-1zM38 15h1v1h-1zM41 12h1v4h-1zM43 11h1v4h-1zM44 12h1v1h-1zM46 11h1v4h-1zM48 0h1v11h-1zM48 12h1v4h-1zM52 0h1v12h-1zM58 11h1v1h-1zM66 15h1v1h-1z"/>
</g>
<g id="names2" class="nm">
<text class="nm" x="26" y="2133">CdbS (Mxan_4328)</text>
<text class="nm" x="26" y="2161.1">LILAB_29770</text>
<text class="nm" x="26" y="2189.1">MYMAC_004251</text>
<text class="nm" x="26" y="2217.2">A176_002574</text>
<text class="nm" x="26" y="2245.2">MFUL124B02_26480</text>
<text class="nm" x="26" y="2273.3">MYSTI_04839</text>
<text class="nm" x="26" y="2301.3">COCOR_03571</text>
<text class="nm" x="26" y="2329.4">MEBOL_006151</text>
<text class="nm" x="26" y="2357.4">STAUR_04709</text>
<text class="nm" x="26" y="2385.5">CYFUS_003703</text>
<text class="nm" x="26" y="2413.5">JQX13_45285</text>
<text class="nm" x="26" y="2441.6">AKJ08_1991</text>
<text class="nm" x="26" y="2469.6">Anae109_2048</text>
<text class="nm" x="26" y="2497.7">AnaeK_1071</text>
<text class="nm" x="26" y="2525.7">A2cp1_2163</text>
<text class="nm" x="26" y="2553.8">Hoch_5866</text>
</g>
<g id="seq2">
<text class="s" y="2133" x="269.3 291.8 314.4 336.9 359.4 381.9 404.5 427 449.5 472.1 494.6 517.1 539.7 562.2 584.7 607.3 629.8 652.3 674.8 697.4 719.9 742.4 765 787.5 810 832.6 855.1 877.6 900.1 922.7 945.2 967.7 990.3 1012.8 1035.3 1057.9 1080.4 1102.9 1125.4 1148 1170.5 1193 1215.6 1238.1 1260.6 1283.2 1305.7 1328.2 1350.7 1373.3 1395.8 1418.3 1440.9 1463.4 1485.9 1508.5 1531 1553.5 1576 1598.6 1621.1 1643.6 1666.2 1688.7 1711.2 1733.8 1756.3 1778.8">K<tspan class="w">VTFA</tspan>G-E<tspan class="w">DG</tspan>T<tspan class="w">EMT</tspan>CLC<tspan class="w">EVRYQ</tspan>VA<tspan class="w">L</tspan>AF<tspan class="w">GR</tspan>--K<tspan class="w">DGR</tspan>EGSS<tspan class="w">RGVGLR</tspan>I<tspan class="w">V</tspan>AY<tspan class="w">E</tspan>TQD<tspan class="w">D</tspan>A<tspan class="w">P</tspan>L<tspan class="w">LL</tspan>VD-<tspan class="w">R</tspan>E<tspan class="w">RVMH</tspan></text>
<text class="s" y="2161.1" x="269.3 291.8 314.4 336.9 359.4 381.9 404.5 427 449.5 472.1 494.6 517.1 539.7 562.2 584.7 607.3 629.8 652.3 674.8 697.4 719.9 742.4 765 787.5 810 832.6 855.1 877.6 900.1 922.7 945.2 967.7 990.3 1012.8 1035.3 1057.9 1080.4 1102.9 1125.4 1148 1170.5 1193 1215.6 1238.1 1260.6 1283.2 1305.7 1328.2 1350.7 1373.3 1395.8 1418.3 1440.9 1463.4 1485.9 1508.5 1531 1553.5 1576 1598.6 1621.1 1643.6 1666.2 1688.7 1711.2 1733.8 1756.3 1778.8">K<tspan class="w">VTFA</tspan>G-E<tspan class="w">DG</tspan>T<tspan class="w">EMT</tspan>CLC<tspan class="w">EVRYQ</tspan>VA<tspan class="w">L</tspan>AF<tspan class="w">GR</tspan>--K<tspan class="w">DGR</tspan>EGSS<tspan class="w">RGVGLR</tspan>I<tspan class="w">V</tspan>AY<tspan class="w">E</tspan>TQD<tspan class="w">D</tspan>A<tspan class="w">P</tspan>L<tspan class="w">LL</tspan>VD-<tspan class="w">R</tspan>E<tspan class="w">RVMH</tspan></text>
<text class="s" y="2189.1" x="269.3 291.8 314.4 336.9 359.4 381.9 404.5 427 449.5 472.1 494.6 517.1 539.7 562.2 584.7 607.3 629.8 652.3 674.8 697.4 719.9 742.4 765 787.5 810 832.6 855.1 877.6 900.1 922.7 945.2 967.7 990.3 1012.8 1035.3 1057.9 1080.4 1102.9 1125.4 1148 1170.5 1193 1215.6 1238.1 1260.6 1283.2 1305.7 1328.2 1350.7 1373.3 1395.8 1418.3 1440.9 1463.4 1485.9 1508.5 1531 1553.5 1576 1598.6 1621.1 1643.6 1666.2 1688.7 1711.2 1733.8 1756.3 1778.8">K<tspan class="w">VTFA</tspan>G-E<tspan class="w">DG</tspan>T<tspan class="w">EMT</tspan>CLC<tspan class="w">EVRYQ</tspan>VA<tspan class="w">L</tspan>AF<tspan class="w">GR</tspan>--K<tspan class="w">DGR</tspan>EGSS<tspan class="w">RGVGLR</tspan>I<tspan class="w">V</tspan>AY<tspan class="w">E</tspan>TQD<tspan class="w">D</tspan>A<tspan class="w">P</tspan>L<tspan class="w">LL</tspan>VD-<tspan class="w">R</tspan>E<tspan class="w">RVMH</tspan></text>
<text class="s" y="2217.2" x="269.3 291.8 314.4 336.9 359.4 381.9 404.5 427 449.5 472.1 494.6 517.1 539.7 562.2 584.7 607.3 629.8 652.3 674.8 697.4 719.9 742.4 765 787.5 810 832.6 855.1 877.6 900.1 922.7 945.2 967.7 990.3 1012.8 1035.3 1057.9 1080.4 1102.9 1125.4 1148 1170.5 1193 1215.6 1238.1 1260.6 1283.2 1305.7 1328.2 1350.7 1373.3 1395.8 1418.3 1440.9 1463.4 1485.9 1508.5 1531 1553.5 1576 1598.6 1621.1 1643.6 1666.2 1688.7 1711.2 1733.8 1756.3 1778.8">K<tspan class="w">VTFA</tspan>G-E<tspan class="w">DG</tspan>T<tspan class="w">EMT</tspan>CLC<tspan class="w">EVRYQ</tspan>VA<tspan class="w">L</tspan>AF<tspan class="w">GR</tspan>--K<tspan class="w">DGR</tspan>EGSS<tspan class="w">RGVGLR</tspan>I<tspan class="w">V</tspan>AY<tspan class="w">E</tspan>TQD<tspan class="w">D</tspan>A<tspan class="w">P</tspan>L<tspan class="w">LL</tspan>VD-<tspan class="w">R</tspan>E<tspan class="w">RVMH</tspan></text>
<text class="s" y="2245.2" x="269.3 291.8 314.4 336.9 359.4 381.9 404.5 427 449.5 472.1 494.6 517.1 539.7 562.2 584.7 607.3 629.8 652.3 674.8 697.4 719.9 742.4 765 787.5 810 832.6 855.1 877.6 900.1 922.7 945.2 967.7 990.3 1012.8 1035.3 1057.9 1080.4 1102.9 1125.4 1148 1170.5 1193 1215.6 1238.1 1260.6 1283.2 1305.7 1328.2 1350.7 1373.3 1395.8 1418.3 1440.9 1463.4 1485.9 1508.5 1531 1553.5 1576 1598.6 1621.1 1643.6 1666.2 1688.7 1711.2 1733.8 1756.3 1778.8">K<tspan class="w">VTFA</tspan>G-E<tspan class="w">DG</tspan>T<tspan class="w">EMT</tspan>CLC<tspan class="w">EVRYQ</tspan>VA<tspan class="w">L</tspan>AF<tspan class="w">GR</tspan>--K<tspan class="w">DGR</tspan>EGSS<tspan class="w">RGVGLR</tspan>I<tspan class="w">V</tspan>AY<tspan class="w">E</tspan>THD<tspan class="w">D</tspan>A<tspan class="w">P</tspan>L<tspan class="w">LL</tspan>VD-<tspan class="w">R</tspan>E<tspan class="w">RVMH</tspan></text>
<text class="s" y="2273.3" x="269.3 291.8 314.4 336.9 359.4 381.9 404.5 427 449.5 472.1 494.6 517.1 539.7 562.2 584.7 607.3 629.8 652.3 674.8 697.4 719.9 742.4 765 787.5 810 832.6 855.1 877.6 900.1 922.7 945.2 967.7 990.3 1012.8 1035.3 1057.9 1080.4 1102.9 1125.4 1148 1170.5 1193 1215.6 1238.1 1260.6 1283.2 1305.7 1328.2 1350.7 1373.3 1395.8 1418.3 1440.9 1463.4 1485.9 1508.5 1531 1553.5 1576 1598.6 1621.1 1643.6 1666.2 1688.7 1711.2 1733.8 1756.3 1778.8">K<tspan class="w">VTFA</tspan>G-E<tspan class="w">DG</tspan>T<tspan class="w">EMT</tspan>CLC<tspan class="w">EVRYQ</tspan>VA<tspan class="w">L</tspan>AF<tspan class="w">GR</tspan>--K<tspan class="w">DGR</tspan>EGSS<tspan class="w">RGVGLR</tspan>I<tspan class="w">V</tspan>AY<tspan class="w">E</tspan>THD<tspan class="w">D</tspan>A<tspan class="w">P</tspan>L<tspan class="w">LL</tspan>VD-<tspan class="w">R</tspan>E<tspan class="w">RVMH</tspan></text>
<text class="s" y="2301.3" x="269.3 291.8 314.4 336.9 359.4 381.9 404.5 427 449.5 472.1 494.6 517.1 539.7 562.2 584.7 607.3 629.8 652.3 674.8 697.4 719.9 742.4 765 787.5 810 832.6 855.1 877.6 900.1 922.7 945.2 967.7 990.3 1012.8 1035.3 1057.9 1080.4 1102.9 1125.4 1148 1170.5 1193 1215.6 1238.1 1260.6 1283.2 1305.7 1328.2 1350.7 1373.3 1395.8 1418.3 1440.9 1463.4 1485.9 1508.5 1531 1553.5 1576 1598.6 1621.1 1643.6 1666.2 1688.7 1711.2 1733.8 1756.3 1778.8">K<tspan class="w">VTFA</tspan>G-E<tspan class="w">DG</tspan>T<tspan class="w">EMT</tspan>CLC<tspan class="w">EVRYQ</tspan>VA<tspan class="w">L</tspan>AF<tspan class="w">GR</tspan>--K<tspan class="w">DGR</tspan>PGNS<tspan class="w">RGVGLR</tspan>I<tspan class="w">V</tspan>AY<tspan class="w">E</tspan>TMD<tspan class="w">D</tspan>A<tspan class="w">P</tspan>L<tspan class="w">LL</tspan>VD-<tspan class="w">R</tspan>E<tspan class="w">RVMH</tspan></text>
<text class="s" y="2329.4" x="269.3 291.8 314.4 336.9 359.4 381.9 404.5 427 449.5 472.1 494.6 517.1 539.7 562.2 584.7 607.3 629.8 652.3 674.8 697.4 719.9 742.4 765 787.5 810 832.6 855.1 877.6 900.1 922.7 945.2 967.7 990.3 1012.8 1035.3 1057.9 1080.4 1102.9 1125.4 1148 1170.5 1193 1215.6 1238.1 1260.6 1283.2 1305.7 1328.2 1350.7 1373.3 1395.8 1418.3 1440.9 1463.4 1485.9 1508.5 1531 1553.5 1576 1598.6 1621.1 1643.6 1666.2 1688.7 1711.2 1733.8 1756.3 1778.8">K<tspan class="w">VTFA</tspan>G-E<tspan class="w">DG</tspan>T<tspan class="w">EMT</tspan>CLC<tspan class="w">EVRYQ</tspan>VA<tspan class="w">L</tspan>SY<tspan class="w">GR</tspan>--K<tspan class="w">DGR</tspan>EGNS<tspan class="w">RGVGLR</tspan>I<tspan class="w">V</tspan>AY<tspan class="w">E</tspan>VQE<tspan class="w">D</tspan>A<tspan class="w">P</tspan>L<tspan class="w">LL</tspan>VA-<tspan class="w">R</tspan>E<tspan class="w">RVMH</tspan></text>
<text class="s" y="2357.4" x="269.3 291.8 314.4 336.9 359.4 381.9 404.5 427 449.5 472.1 494.6 517.1 539.7 562.2 584.7 607.3 629.8 652.3 674.8 697.4 719.9 742.4 765 787.5 810 832.6 855.1 877.6 900.1 922.7 945.2 967.7 990.3 1012.8 1035.3 1057.9 1080.4 1102.9 1125.4 1148 1170.5 1193 1215.6 1238.1 1260.6 1283.2 1305.7 1328.2 1350.7 1373.3 1395.8 1418.3 1440.9 1463.4 1485.9 1508.5 1531 1553.5 1576 1598.6 1621.1 1643.6 1666.2 1688.7 1711.2 1733.8 1756.3 1778.8">K<tspan class="w">VTFA</tspan>G-E<tspan class="w">DG</tspan>T<tspan class="w">EMT</tspan>CLC<tspan class="w">EVRYQ</tspan>VA<tspan class="w">L</tspan>AY<tspan class="w">GR</tspan>--K<tspan class="w">DGR</tspan>EGNS<tspan class="w">RGVGLR</tspan>V<tspan class="w">V</tspan>AY<tspan class="w">E</tspan>TQD<tspan class="w">D</tspan>A<tspan class="w">P</tspan>L<tspan class="w">LL</tspan>VD-<tspan class="w">R</tspan>E<tspan class="w">RVMH</tspan></text>
<text class="s" y="2385.5" x="269.3 291.8 314.4 336.9 359.4 381.9 404.5 427 449.5 472.1 494.6 517.1 539.7 562.2 584.7 607.3 629.8 652.3 674.8 697.4 719.9 742.4 765 787.5 810 832.6 855.1 877.6 900.1 922.7 945.2 967.7 990.3 1012.8 1035.3 1057.9 1080.4 1102.9 1125.4 1148 1170.5 1193 1215.6 1238.1 1260.6 1283.2 1305.7 1328.2 1350.7 1373.3 1395.8 1418.3 1440.9 1463.4 1485.9 1508.5 1531 1553.5 1576 1598.6 1621.1 1643.6 1666.2 1688.7 1711.2 1733.8 1756.3 1778.8">K<tspan class="w">VTFA</tspan>G-E<tspan class="w">DG</tspan>T<tspan class="w">EMT</tspan>CLC<tspan class="w">EVRYQ</tspan>VA<tspan class="w">L</tspan>AY<tspan class="w">GR</tspan>--K<tspan class="w">DGR</tspan>EGNS<tspan class="w">RGVGLR</tspan>I<tspan class="w">V</tspan>AY<tspan class="w">E</tspan>VQE<tspan class="w">D</tspan>Q<tspan class="w">P</tspan>L<tspan class="w">LL</tspan>VA-<tspan class="w">R</tspan>E<tspan class="w">RVMH</tspan></text>
<text class="s" y="2413.5" x="269.3 291.8 314.4 336.9 359.4 381.9 404.5 427 449.5 472.1 494.6 517.1 539.7 562.2 584.7 607.3 629.8 652.3 674.8 697.4 719.9 742.4 765 787.5 810 832.6 855.1 877.6 900.1 922.7 945.2 967.7 990.3 1012.8 1035.3 1057.9 1080.4 1102.9 1125.4 1148 1170.5 1193 1215.6 1238.1 1260.6 1283.2 1305.7 1328.2 1350.7 1373.3 1395.8 1418.3 1440.9 1463.4 1485.9 1508.5 1531 1553.5 1576 1598.6 1621.1 1643.6 1666.2 1688.7 1711.2 1733.8 1756.3 1778.8">K<tspan class="w">VTFA</tspan>G-E<tspan class="w">DG</tspan>T<tspan class="w">EMT</tspan>CLC<tspan class="w">EVRYQ</tspan>VA<tspan class="w">L</tspan>SY<tspan class="w">GR</tspan>--K<tspan class="w">DGR</tspan>EGNS<tspan class="w">RGVGLR</tspan>I<tspan class="w">V</tspan>AY<tspan class="w">E</tspan>VQE<tspan class="w">D</tspan>Q<tspan class="w">P</tspan>L<tspan class="w">LL</tspan>VA-<tspan class="w">R</tspan>E<tspan class="w">RVMH</tspan></text>
<text class="s" y="2441.6" x="269.3 291.8 314.4 336.9 359.4 381.9 404.5 427 449.5 472.1 494.6 517.1 539.7 562.2 584.7 607.3 629.8 652.3 674.8 697.4 719.9 742.4 765 787.5 810 832.6 855.1 877.6 900.1 922.7 945.2 967.7 990.3 1012.8 1035.3 1057.9 1080.4 1102.9 1125.4 1148 1170.5 1193 1215.6 1238.1 1260.6 1283.2 1305.7 1328.2 1350.7 1373.3 1395.8 1418.3 1440.9 1463.4 1485.9 1508.5 1531 1553.5 1576 1598.6 1621.1 1643.6 1666.2 1688.7 1711.2 1733.8 1756.3 1778.8">SIC<tspan class="w">FA</tspan>DPLS<tspan class="w">G</tspan>V<tspan class="w">E</tspan>LSLVG<tspan class="w">EVRYQ</tspan>CV<tspan class="w">L</tspan>EY<tspan class="w">G</tspan>G--RE<tspan class="w">G</tspan>-ATAL<tspan class="w">RGVG</tspan>V<tspan class="w">R</tspan>FIEV<tspan class="w">E</tspan>A-D<tspan class="w">D</tspan>PIHAVAS-VNWT<tspan class="w">MH</tspan></text>
<text class="s" y="2469.6" x="269.3 291.8 314.4 336.9 359.4 381.9 404.5 427 449.5 472.1 494.6 517.1 539.7 562.2 584.7 607.3 629.8 652.3 674.8 697.4 719.9 742.4 765 787.5 810 832.6 855.1 877.6 900.1 922.7 945.2 967.7 990.3 1012.8 1035.3 1057.9 1080.4 1102.9 1125.4 1148 1170.5 1193 1215.6 1238.1 1260.6 1283.2 1305.7 1328.2 1350.7 1373.3 1395.8 1418.3 1440.9 1463.4 1485.9 1508.5 1531 1553.5 1576 1598.6 1621.1 1643.6 1666.2 1688.7 1711.2 1733.8 1756.3 1778.8">R<tspan class="w">VTF</tspan>PS--<tspan class="w">D</tspan>AG<tspan class="w">EMT</tspan>AVA<tspan class="w">EVRY</tspan>VCH<tspan class="w">L</tspan>VGRGPVDVE<tspan class="w">R</tspan>PAAL<tspan class="w">RG</tspan>M<tspan class="w">G</tspan>VKFLYF<tspan class="w">E</tspan>DDAVHAD<tspan class="w">L</tspan>Q---------</text>
<text class="s" y="2497.7" x="269.3 291.8 314.4 336.9 359.4 381.9 404.5 427 449.5 472.1 494.6 517.1 539.7 562.2 584.7 607.3 629.8 652.3 674.8 697.4 719.9 742.4 765 787.5 810 832.6 855.1 877.6 900.1 922.7 945.2 967.7 990.3 1012.8 1035.3 1057.9 1080.4 1102.9 1125.4 1148 1170.5 1193 1215.6 1238.1 1260.6 1283.2 1305.7 1328.2 1350.7 1373.3 1395.8 1418.3 1440.9 1463.4 1485.9 1508.5 1531 1553.5 1576 1598.6 1621.1 1643.6 1666.2 1688.7 1711.2 1733.8 1756.3 1778.8">RI<tspan class="w">TF</tspan>PS--ENGD<tspan class="w">M</tspan>IAVA<tspan class="w">EVRY</tspan>VCH<tspan class="w">L</tspan>LGRG-TGARGPLTM<tspan class="w">RG</tspan>M<tspan class="w">G</tspan>M<tspan class="w">R</tspan>FLYF<tspan class="w">E</tspan>LDAAV<tspan class="w">P</tspan>S<tspan class="w">LL</tspan>Q--------</text>
<text class="s" y="2525.7" x="269.3 291.8 314.4 336.9 359.4 381.9 404.5 427 449.5 472.1 494.6 517.1 539.7 562.2 584.7 607.3 629.8 652.3 674.8 697.4 719.9 742.4 765 787.5 810 832.6 855.1 877.6 900.1 922.7 945.2 967.7 990.3 1012.8 1035.3 1057.9 1080.4 1102.9 1125.4 1148 1170.5 1193 1215.6 1238.1 1260.6 1283.2 1305.7 1328.2 1350.7 1373.3 1395.8 1418.3 1440.9 1463.4 1485.9 1508.5 1531 1553.5 1576 1598.6 1621.1 1643.6 1666.2 1688.7 1711.2 1733.8 1756.3 1778.8">RI<tspan class="w">TF</tspan>PS--ENGD<tspan class="w">M</tspan>IAVA<tspan class="w">EVRY</tspan>VCH<tspan class="w">L</tspan>LGRG-TGARGPLTM<tspan class="w">RG</tspan>M<tspan class="w">G</tspan>M<tspan class="w">R</tspan>FLYF<tspan class="w">E</tspan>LDAAV<tspan class="w">P</tspan>S<tspan class="w">LL</tspan>Q--------</text>
<text class="s" y="2553.8" x="269.3 291.8 314.4 336.9 359.4 381.9 404.5 427 449.5 472.1 494.6 517.1 539.7 562.2 584.7 607.3 629.8 652.3 674.8 697.4 719.9 742.4 765 787.5 810 832.6 855.1 877.6 900.1 922.7 945.2 967.7 990.3 1012.8 1035.3 1057.9 1080.4 1102.9 1125.4 1148 1170.5 1193 1215.6 1238.1 1260.6 1283.2 1305.7 1328.2 1350.7 1373.3 1395.8 1418.3 1440.9 1463.4 1485.9 1508.5 1531 1553.5 1576 1598.6 1621.1 1643.6 1666.2 1688.7 1711.2 1733.8 1756.3 1778.8">T<tspan class="w">V</tspan>H<tspan class="w">F</tspan>RMPDG<tspan class="w">G</tspan>GDIVARA<tspan class="w">EV</tspan>KHHYCFNFA<tspan class="w">R</tspan>---<tspan class="w">D</tspan>DGPYRA<tspan class="w">RG</tspan>I<tspan class="w">GLR</tspan>F<tspan class="w">V</tspan>EFIEDSAERWRETFT<tspan class="w">R</tspan>T<tspan class="w">RV</tspan>L<tspan class="w">H</tspan></text>
</g>
<g id="count2" class="nm">
<text class="nm" x="1815" y="2133">119</text>
<text class="nm" x="1815" y="2161.1">119</text>
<text class="nm" x="1815" y="2189.1">119</text>
<text class="nm" x="1815" y="2217.2">119</text>
<text class="nm" x="1815" y="2245.2">119</text>
<text class="nm" x="1815" y="2273.3">119</text>
<text class="nm" x="1815" y="2301.3">119</text>
<text class="nm" x="1815" y="2329.4">120</text>
<text class="nm" x="1815" y="2357.4">133</text>
<text class="nm" x="1815" y="2385.5">120</text>
<text class="nm" x="1815" y="2413.5">121</text>
<text class="nm" x="1815" y="2441.6">121</text>
<text class="nm" x="1815" y="2469.6">120</text>
<text class="nm" x="1815" y="2497.7">123</text>
<text class="nm" x="1815" y="2525.7">123</text>
<text class="nm" x="1815" y="2553.8">131</text>
</g>
</g>
</svg>
